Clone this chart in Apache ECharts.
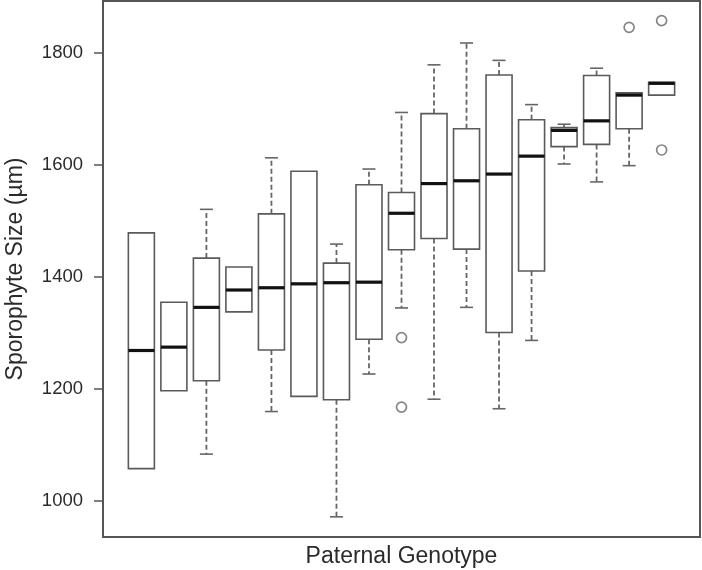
<!DOCTYPE html>
<html>
<head>
<meta charset="utf-8">
<script src="https://cdn.jsdelivr.net/npm/echarts@6/dist/echarts.min.js"></script>
<style>html,body{margin:0;padding:0;background:#fff;}#c{width:702px;height:570px;}</style>
</head>
<body>
<div id="c"></div>
<script>
// Box statistics per paternal genotype (left to right), in µm
const genotypes = ['1','2','3','4','5','6','7','8','9','10','11','12','13','14','15','16','17'];
const whiskerLow  = [1057, 1196, 1083, 1337, 1159, 1186,  971, 1226, 1344, 1181, 1345, 1164, 1286, 1601, 1569, 1598, 1724];
const q1          = [1057, 1196, 1214, 1337, 1269, 1186, 1180, 1288, 1448, 1468, 1449, 1300, 1410, 1632, 1636, 1664, 1724];
const median      = [1268, 1274, 1345, 1376, 1380, 1387, 1389, 1390, 1513, 1566, 1571, 1583, 1615, 1661, 1678, 1724, 1745];
const q3          = [1478, 1354, 1433, 1417, 1512, 1588, 1424, 1564, 1550, 1691, 1664, 1760, 1680, 1666, 1759, 1728, 1747];
const whiskerHigh = [1478, 1354, 1520, 1417, 1612, 1588, 1458, 1592, 1693, 1778, 1817, 1786, 1707, 1672, 1772, 1728, 1747];
// Outliers: [genotype index (1-based), value]
const outlierGroup = [9, 9, 16, 17, 17];
const outlierValue = [1291, 1167, 1845, 1857, 1626];
const yTicks = [1000, 1200, 1400, 1600, 1800];

const boxData = genotypes.map((g, i) => [i + 1, whiskerLow[i], q1[i], median[i], q3[i], whiskerHigh[i]]);
const outData = outlierGroup.map((g, i) => [g, outlierValue[i]]);

const chart = echarts.init(document.getElementById('c'), null, {renderer: 'canvas'});
const FONT = "'Liberation Sans', Arial, Helvetica, sans-serif";
const boxColor = '#5a5a5a';
const whiskColor = '#666';

function renderBox(params, api) {
  const x = api.value(0);
  const lo = api.value(1), a = api.value(2), m = api.value(3), b = api.value(4), hi = api.value(5);
  const half = api.size([0.8, 0])[0] / 2;
  const capHalf = api.size([0.4, 0])[0] / 2;
  const pLo = api.coord([x, lo]), pA = api.coord([x, a]), pM = api.coord([x, m]), pB = api.coord([x, b]), pHi = api.coord([x, hi]);
  const cx = pM[0];
  const children = [];
  const dashStyle = {stroke: whiskColor, lineWidth: 1.8, lineDash: [5, 3]};
  const solid = {stroke: whiskColor, lineWidth: 1.6};
  if (lo < a) {
    children.push({type: 'line', shape: {x1: cx, y1: pA[1], x2: cx, y2: pLo[1]}, style: dashStyle});
    children.push({type: 'line', shape: {x1: cx - capHalf, y1: pLo[1], x2: cx + capHalf, y2: pLo[1]}, style: solid});
  }
  if (hi > b) {
    children.push({type: 'line', shape: {x1: cx, y1: pB[1], x2: cx, y2: pHi[1]}, style: dashStyle});
    children.push({type: 'line', shape: {x1: cx - capHalf, y1: pHi[1], x2: cx + capHalf, y2: pHi[1]}, style: solid});
  }
  children.push({type: 'rect', shape: {x: cx - half, y: pB[1], width: 2 * half, height: pA[1] - pB[1]},
    style: {fill: '#fff', stroke: boxColor, lineWidth: 1.6}});
  children.push({type: 'line', shape: {x1: cx - half, y1: pM[1], x2: cx + half, y2: pM[1]},
    style: {stroke: '#111', lineWidth: 3.2}});
  return {type: 'group', children};
}

chart.setOption({
  animation: false,
  backgroundColor: '#fff',
  grid: {left: 103, right: 2, top: 1, bottom: 33, show: true, borderColor: '#555', borderWidth: 2,
    backgroundColor: 'transparent', containLabel: false, outerBoundsMode: 'none'},
  xAxis: {
    type: 'value', min: -0.18, max: 18.18,
    axisLine: {show: false, onZero: false}, axisTick: {show: false}, axisLabel: {show: false}, splitLine: {show: false},
    name: 'Paternal Genotype', nameLocation: 'middle', nameGap: 8,
    nameTextStyle: {fontFamily: FONT, fontSize: 23, color: '#2a2a2a', verticalAlign: 'top'}
  },
  yAxis: {
    type: 'value', min: 935, max: 1892,
    axisLine: {show: true, onZero: false, lineStyle: {color: '#555', width: 2}},
    axisTick: {show: true, length: 9, inside: false, customValues: yTicks, lineStyle: {color: '#555', width: 1.5}},
    axisLabel: {show: true, customValues: yTicks, margin: 20, fontFamily: FONT, fontSize: 18.5, color: '#2a2a2a',
      formatter: v => String(v)},
    splitLine: {show: false},
    name: 'Sporophyte Size (µm)', nameLocation: 'middle', nameGap: 76,
    nameTextStyle: {fontFamily: FONT, fontSize: 23, color: '#2a2a2a'}
  },
  series: [
    {type: 'custom', renderItem: renderBox, data: boxData, encode: {x: 0, y: [1, 2, 3, 4, 5]}, clip: false},
    {type: 'scatter', data: outData, symbol: 'circle', symbolSize: 10,
      itemStyle: {color: '#fff', borderColor: '#666', borderWidth: 1.7}}
  ]
});
</script>
</body>
</html>
